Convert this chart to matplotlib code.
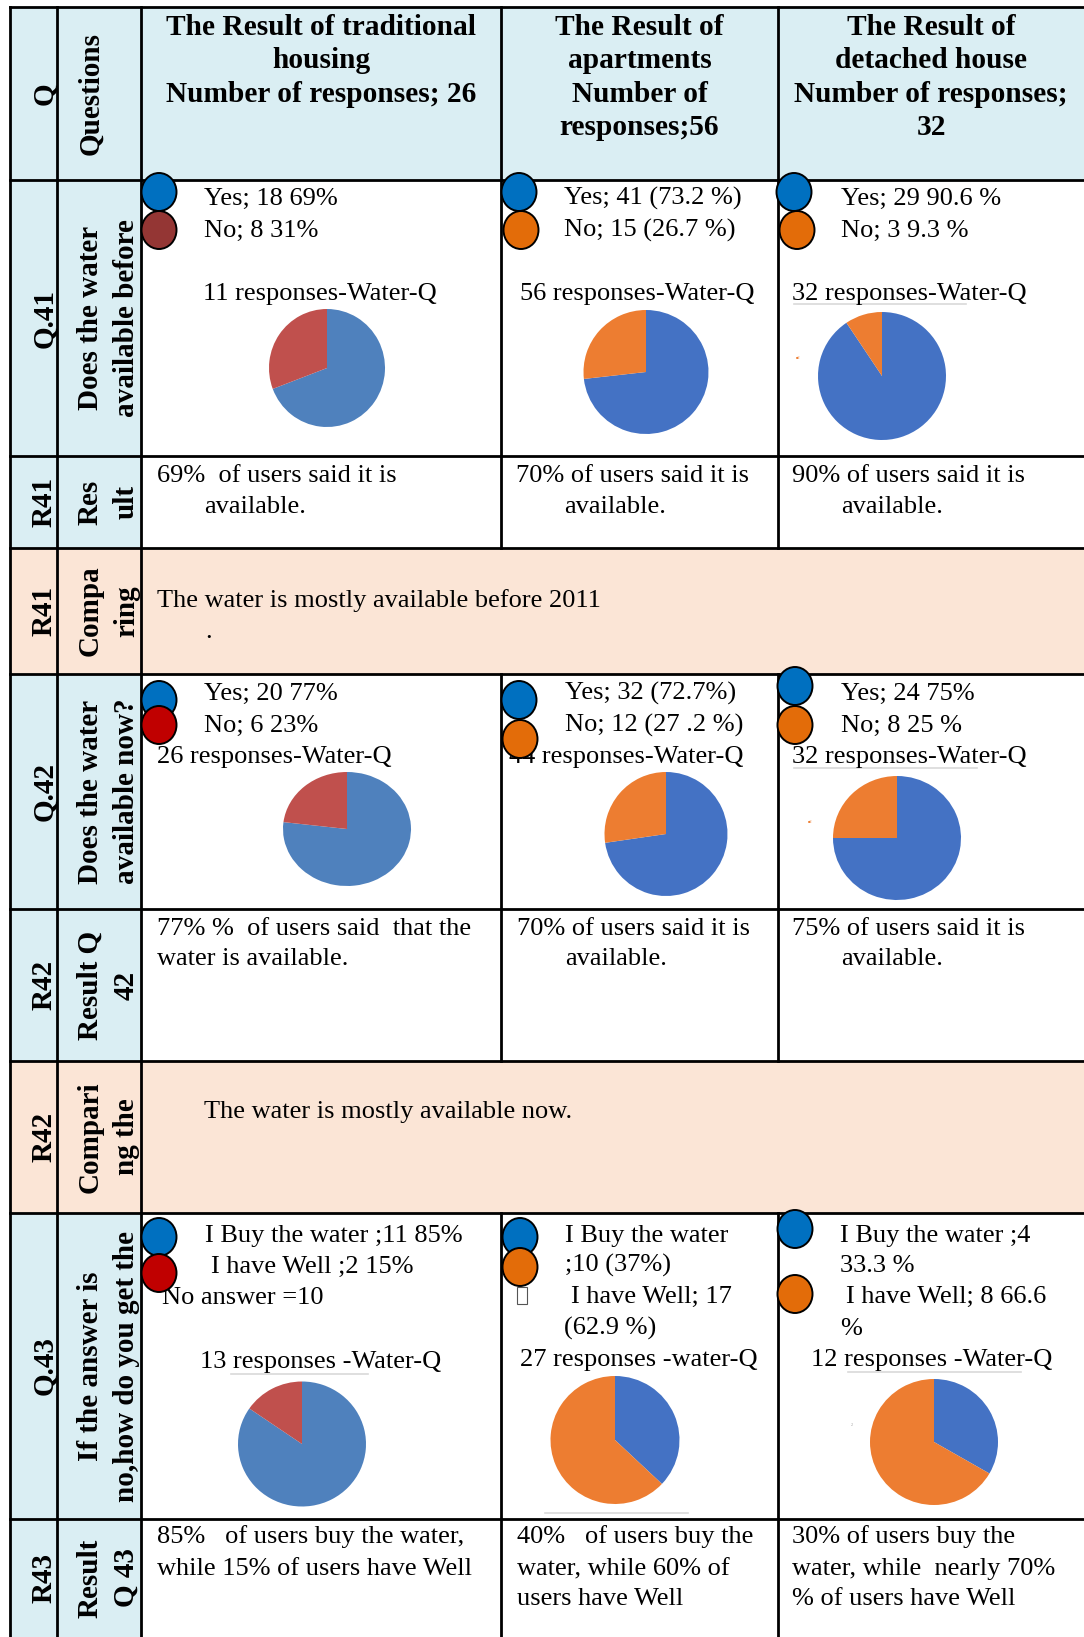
import matplotlib.pyplot as plt
from matplotlib.patches import Rectangle, Ellipse

plt.rcParams['font.family'] = ['Liberation Serif', 'DejaVu Sans']

# ---------------- data ----------------
header_lines = [
    ["The Result of traditional", "housing", "Number of responses; 26"],
    ["The Result of", "apartments", "Number of", "responses;56"],
    ["The Result of", "detached house", "Number of responses;", "32"],
]
q41_yes = [18, 41, 29]
q41_no = [8, 15, 3]
q42_yes = [20, 32, 24]
q42_no = [6, 12, 8]
q43_buy = [11, 10, 4]
q43_well = [2, 17, 8]

col1_labels = ["Q", "Q.41", "R41", "R41", "Q.42", "R42", "R42", "Q.43", "R43"]
col2_labels = [["Questions"], ["Does the water", "available before"], ["Res", "ult"],
               ["Compa", "ring"], ["Does the water", "available now?"], ["Result Q", "42"],
               ["Compari", "ng the"], ["If the answer is", "no,how do you get the"],
               ["Result", "Q 43"]]

W, H = 1084, 1637
col_x = [10, 57, 141, 501, 778, 1084]
row_y = [7, 180, 456, 548, 674, 909, 1061, 1213, 1519, 1637]
compare_rows = [3, 6]

BLUE_BG = "#DAEEF3"
PEACH = "#FBE5D6"

fig = plt.figure(figsize=(W / 100, H / 100), dpi=100)
ax = fig.add_axes([0, 0, 1, 1])
ax.set_xlim(0, W)
ax.set_ylim(H, 0)
ax.axis('off')

# cell backgrounds
for r in range(len(row_y) - 1):
    y0, y1 = row_y[r], row_y[r + 1]
    if r in compare_rows:
        ax.add_patch(Rectangle((col_x[0], y0), W - col_x[0], y1 - y0, color=PEACH, zorder=0))
    elif r == 0:
        ax.add_patch(Rectangle((col_x[0], y0), W - col_x[0], y1 - y0, color=BLUE_BG, zorder=0))
    else:
        ax.add_patch(Rectangle((col_x[0], y0), col_x[2] - col_x[0], y1 - y0, color=BLUE_BG, zorder=0))

# grid lines
lw = 2
for y in row_y[:-1]:
    ax.plot([col_x[0], W], [y, y], color='black', lw=lw, zorder=1)
for x in col_x[:3]:
    ax.plot([x, x], [row_y[0], H], color='black', lw=lw, zorder=1)
for x in col_x[3:5]:
    for r in range(len(row_y) - 1):
        if r not in compare_rows:
            ax.plot([x, x], [row_y[r], row_y[r + 1]], color='black', lw=lw, zorder=1)

# header
hdr_centers = [(col_x[2] + col_x[3]) / 2, (col_x[3] + col_x[4]) / 2, (col_x[4] + W) / 2]
hdr_base = [35, 68, 102, 135]
for c, lines in enumerate(header_lines):
    for i, s in enumerate(lines):
        ax.text(hdr_centers[c], hdr_base[i], s, fontsize=21.2, fontweight='bold',
                ha='center', va='baseline', zorder=2)

# rotated labels
for r in range(len(row_y) - 1):
    yc = (row_y[r] + row_y[r + 1]) / 2
    ax.text(52, yc, col1_labels[r], rotation=90, rotation_mode='anchor', fontsize=21,
            fontweight='bold', ha='center', va='baseline', zorder=2)
    for i, s in enumerate(col2_labels[r]):
        ax.text([98, 134][i], yc, s, rotation=90, rotation_mode='anchor', fontsize=21,
                fontweight='bold', ha='center', va='baseline', zorder=2)

FS = 19


def body(x, y, s):
    ax.text(x, y, s, fontsize=FS, ha='left', va='baseline', zorder=2)


# Q41 texts
for c, (x1, xt) in enumerate([(204, 203), (564, 520), (841, 792)]):
    tot = q41_yes[c] + q41_no[c]
    if c == 0:
        body(x1, 205, f"Yes; {q41_yes[c]} 69%")
        body(x1, 237, f"No; {q41_no[c]} 31%")
        body(xt, 300, "11 responses-Water-Q")
    elif c == 1:
        body(x1, 205, f"Yes; {q41_yes[c]} (73.2 %)")
        body(x1, 237, f"No; {q41_no[c]} (26.7 %)")
        body(xt, 300, f"{tot} responses-Water-Q")
    else:
        body(x1, 205, f"Yes; {q41_yes[c]} 90.6 %")
        body(x1, 237, f"No; {q41_no[c]} 9.3 %")
        body(xt, 300, f"{tot} responses-Water-Q")

# R41
for (xa, xb), pct in zip([(157, 204), (516, 564), (792, 841)], ["69%  of users said it is",
                                                               "70% of users said it is",
                                                               "90% of users said it is"]):
    body(xa, 482, pct)
    body(xb, 513, "available.")

body(157, 607, "The water is mostly available before 2011")
body(205, 638, ".")

# Q42
q42_pct = [("77%", "23%"), ("(72.7%)", "(27 .2 %)"), ("75%", "25 %")]
for c, (x1, xt) in enumerate([(204, 157), (565, 509), (841, 792)]):
    body(x1, 700, f"Yes; {q42_yes[c]} {q42_pct[c][0]}")
    body(x1, 732, f"No; {q42_no[c]} {q42_pct[c][1]}")
    body(xt, 763, f"{q42_yes[c] + q42_no[c]} responses-Water-Q")

# R42
body(157, 935, "77% %  of users said  that the")
body(157, 965, "water is available.")
body(517, 935, "70% of users said it is")
body(565, 965, "available.")
body(792, 935, "75% of users said it is")
body(841, 965, "available.")

body(204, 1118, "The water is mostly available now.")

# Q43
body(205, 1242, f"I Buy the water ;{q43_buy[0]} 85%")
body(211, 1273, f"I have Well ;{q43_well[0]} 15%")
body(162, 1304, "No answer =10")
body(200, 1368, f"{q43_buy[0] + q43_well[0]} responses -Water-Q")

body(565, 1242, "I Buy the water")
body(565, 1272, f";{q43_buy[1]} (37%)")
ax.add_patch(Rectangle((517, 1287), 10, 17, fill=False, ec='#555555', lw=0.8, zorder=2))
body(571, 1303, f"I have Well; {q43_well[1]}")
body(564, 1335, "(62.9 %)")
body(520, 1366, f"{q43_buy[1] + q43_well[1]} responses -water-Q")

body(840, 1242, f"I Buy the water ;{q43_buy[2]}")
body(840, 1272, "33.3 %")
body(846, 1303, f"I have Well; {q43_well[2]} 66.6")
body(840, 1335, "%")
body(811, 1366, f"{q43_buy[2] + q43_well[2]} responses -Water-Q")

# R43
body(157, 1543, "85%   of users buy the water,")
body(157, 1575, "while 15% of users have Well")
body(517, 1543, "40%   of users buy the")
body(517, 1575, "water, while 60% of")
body(517, 1605, "users have Well")
body(792, 1543, "30% of users buy the")
body(792, 1575, "water, while  nearly 70%")
body(792, 1605, "% of users have Well")

# faint chart frame lines
for x0, x1, y in [(794, 966, 304), (794, 977, 768), (231, 368, 1374), (848, 1021, 1372), (545, 688, 1513)]:
    ax.plot([x0, x1], [y, y], color='#D9D9D9', lw=1.2, zorder=1.5)
ax.text(796, 358, "\u25a02", fontsize=3, color='#ED7D31', va='center', zorder=2)
ax.text(808, 822, "\u25a02", fontsize=3, color='#ED7D31', va='center', zorder=2)
ax.text(851, 1425, "2", fontsize=3, color='#999999', va='center', zorder=2)

# legend circles
LB, BR, RD, OR = "#0070C0", "#943634", "#C00000", "#E36C09"
circles = [
    [(159, 192, LB), (159, 230, BR)], [(519, 192, LB), (521, 230, OR)], [(794, 192, LB), (797, 230, OR)],
    [(159, 700, LB), (159, 725, RD)], [(519, 700, LB), (520, 739, OR)], [(795, 686, LB), (795, 725, OR)],
    [(159, 1237, LB), (159, 1273, RD)], [(520, 1237, LB), (520, 1267, OR)], [(795, 1229, LB), (795, 1294, OR)],
]
for pair in circles:
    for cx, cy, col in pair:
        ax.add_patch(Ellipse((cx, cy), 35, 38, fc=col, ec='black', lw=1.4, zorder=3))

# pies
trad_colors = ["#4F81BD", "#C0504D"]
new_colors = ["#4472C4", "#ED7D31"]
pie_geo = {
    "q41": [(327, 368, 58, 59), (646, 372, 62.5, 62), (882, 376, 64, 64)],
    "q42": [(347, 829, 64, 57), (666, 834, 61.5, 62), (897, 838, 64, 62)],
    "q43": [(302, 1444, 64, 62.5), (615, 1440, 64.5, 64), (934, 1442, 64, 63)],
}
pie_data = {"q41": (q41_yes, q41_no), "q42": (q42_yes, q42_no), "q43": (q43_buy, q43_well)}

for key, geos in pie_geo.items():
    a_vals, b_vals = pie_data[key]
    for c, (cx, cy, rx, ry) in enumerate(geos):
        pa = fig.add_axes([(cx - rx) / W, 1 - (cy + ry) / H, 2 * rx / W, 2 * ry / H])
        pa.pie([a_vals[c], b_vals[c]], colors=trad_colors if c == 0 else new_colors,
               startangle=90, counterclock=False, radius=1,
               wedgeprops=dict(linewidth=0))
        pa.set_aspect('auto')
        pa.set_xlim(-1, 1)
        pa.set_ylim(-1, 1)
        pa.axis('off')

fig.savefig("out.png", dpi=100)
